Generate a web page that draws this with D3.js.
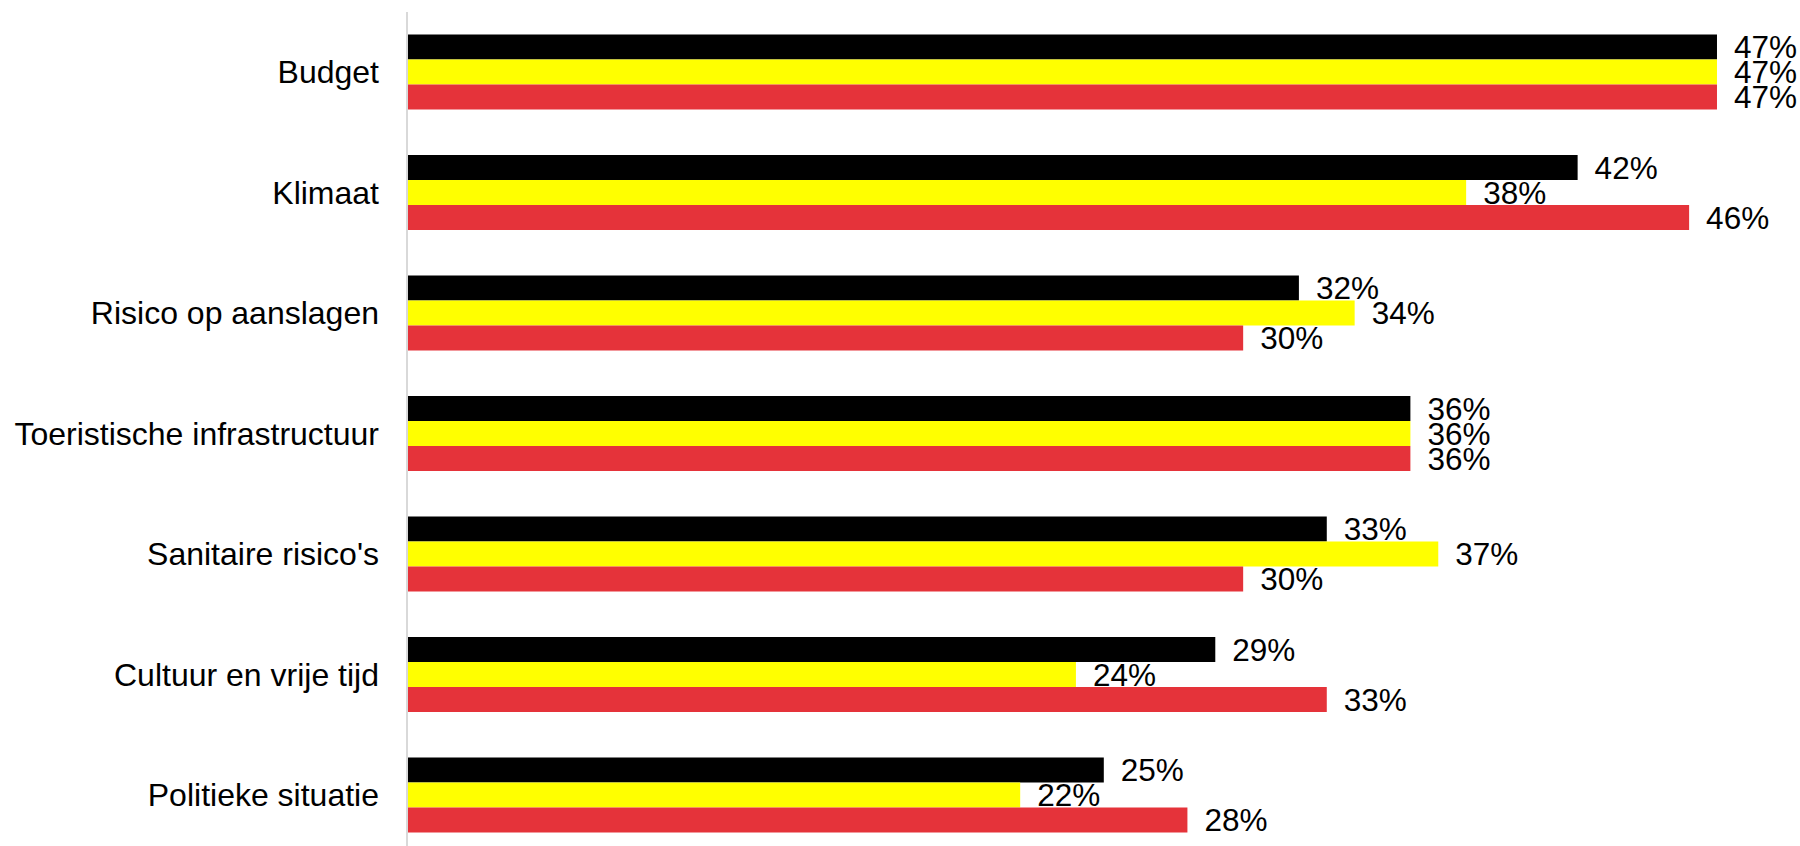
<!DOCTYPE html>
<html>
<head>
<meta charset="utf-8">
<script src="https://cdn.jsdelivr.net/npm/d3@7"></script>
<style>
  html, body { margin: 0; padding: 0; background: #fff; }
  svg { display: block; }
  text { font-family: "Liberation Sans", Arial, sans-serif; }
</style>
</head>
<body>
<svg id="chart" width="1800" height="846"></svg>
<script>
const categories = ["Budget", "Klimaat", "Risico op aanslagen", "Toeristische infrastructuur", "Sanitaire risico's", "Cultuur en vrije tijd", "Politieke situatie"];
const seriesNames = ["serie1", "serie2", "serie3"];
const series1 = [47, 42, 32, 36, 33, 29, 25];
const series2 = [47, 38, 34, 36, 37, 24, 22];
const series3 = [47, 46, 30, 36, 30, 33, 28];
const colors = ["#000000", "#FFFF00", "#E5333A"];

const allSeries = [series1, series2, series3];
const svg = d3.select("#chart");

const x0 = 407;
const x = d3.scaleLinear().domain([0, 50]).range([x0, x0 + 1393.6]);
const y = d3.scaleBand().domain(categories).range([11.75, 855.25])
  .paddingInner(0.3776).paddingOuter(0.1888);
const ys = d3.scaleBand().domain(seriesNames).range([0, y.bandwidth()]);

// category labels
svg.append("g").selectAll("text").data(categories).join("text")
  .attr("x", x0 - 28)
  .attr("y", d => y(d) + y.bandwidth() / 2)
  .attr("dy", "0.35em")
  .attr("text-anchor", "end")
  .attr("font-size", 32)
  .attr("fill", "#000")
  .text(d => d);

// series: bars then labels
allSeries.forEach((vals, si) => {
  const g = svg.append("g");
  const data = categories.map((c, i) => ({ c, v: vals[i] }));
  g.selectAll("rect").data(data).join("rect")
    .attr("x", x(0))
    .attr("y", d => y(d.c) + ys(seriesNames[si]))
    .attr("width", d => x(d.v) - x(0))
    .attr("height", ys.bandwidth())
    .attr("fill", colors[si]);
  g.selectAll("text").data(data).join("text")
    .attr("x", d => x(d.v) + 17)
    .attr("y", d => y(d.c) + ys(seriesNames[si]) + ys.bandwidth() / 2)
    .attr("dy", "0.35em")
    .attr("font-size", 31.5)
    .attr("fill", "#000")
    .text(d => d.v + "%");
});

// vertical axis line
svg.append("line")
  .attr("x1", x0).attr("x2", x0)
  .attr("y1", 12).attr("y2", 846)
  .attr("stroke", "#d9d9d9").attr("stroke-width", 2);
</script>
</body>
</html>
